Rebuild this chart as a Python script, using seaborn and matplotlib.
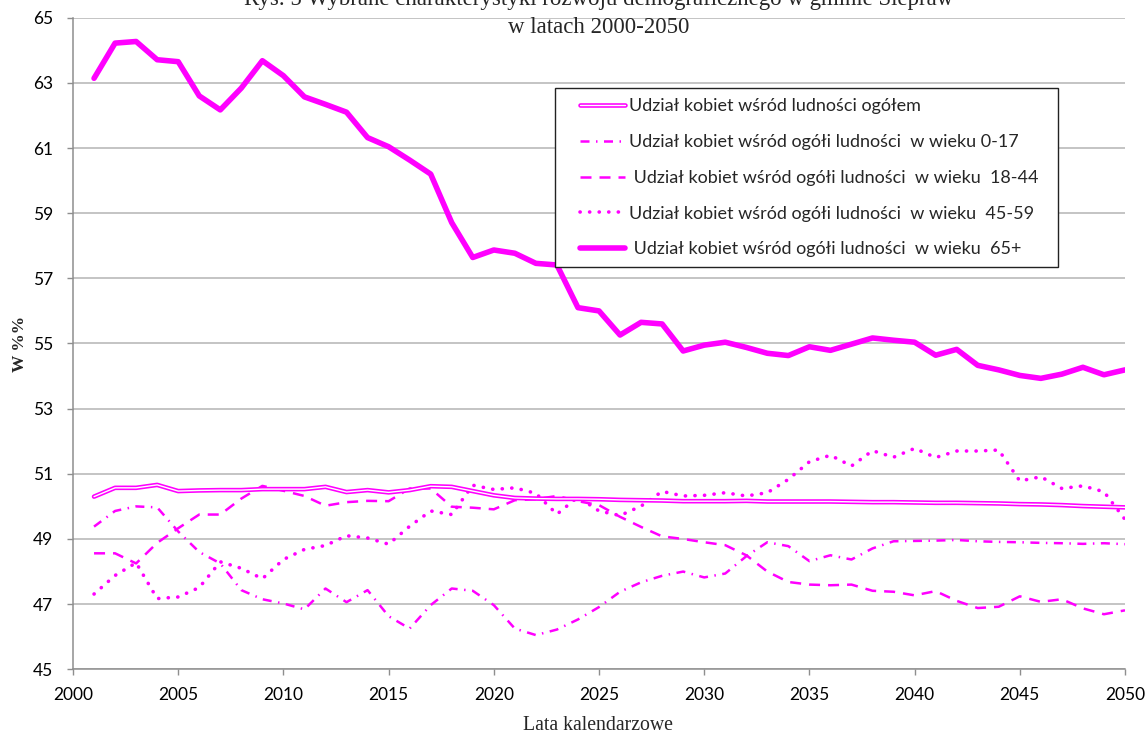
import numpy as np
import pandas as pd
import matplotlib
matplotlib.use("Agg")
import matplotlib.pyplot as plt
import matplotlib.patheffects as pe
from matplotlib.patches import Rectangle
import seaborn as sns

# Years of the projection
years = list(range(2001, 2051))

# Share of women (%) in the whole population
share_total = [50.30, 50.57, 50.57, 50.66, 50.47, 50.49, 50.50, 50.50, 50.53, 50.53,
               50.53, 50.60, 50.44, 50.50, 50.43, 50.50, 50.62, 50.60, 50.47, 50.34,
               50.26, 50.24, 50.23, 50.23, 50.22, 50.20, 50.19, 50.18, 50.16, 50.16,
               50.16, 50.17, 50.15, 50.15, 50.15, 50.15, 50.14, 50.13, 50.13, 50.12,
               50.11, 50.11, 50.10, 50.09, 50.07, 50.06, 50.04, 50.01, 49.99, 49.97]

# Share of women (%) aged 0-17
share_0_17 = [49.38, 49.86, 50.00, 49.97, 49.23, 48.60, 48.25, 47.43, 47.15, 47.02,
              46.84, 47.48, 47.06, 47.43, 46.63, 46.25, 46.97, 47.48, 47.41, 46.97,
              46.25, 46.05, 46.22, 46.53, 46.91, 47.38, 47.67, 47.87, 48.00, 47.82,
              47.94, 48.47, 48.90, 48.78, 48.32, 48.50, 48.37, 48.71, 48.93, 48.94,
              48.95, 48.97, 48.93, 48.91, 48.90, 48.88, 48.87, 48.85, 48.87, 48.84]

# Share of women (%) aged 18-44
share_18_44 = [48.56, 48.56, 48.25, 48.88, 49.33, 49.75, 49.75, 50.24, 50.63, 50.48,
               50.32, 50.02, 50.13, 50.17, 50.16, 50.55, 50.55, 49.99, 49.96, 49.91,
               50.19, 50.22, 50.32, 50.16, 50.04, 49.68, 49.37, 49.08, 49.00, 48.90,
               48.81, 48.50, 48.00, 47.68, 47.60, 47.58, 47.60, 47.41, 47.38, 47.27,
               47.40, 47.10, 46.88, 46.92, 47.24, 47.07, 47.15, 46.87, 46.69, 46.81]

# Share of women (%) aged 45-59
share_45_59 = [47.31, 47.88, 48.27, 47.17, 47.22, 47.51, 48.30, 48.10, 47.78, 48.37,
               48.68, 48.80, 49.10, 49.03, 48.84, 49.39, 49.86, 49.75, 50.65, 50.52,
               50.57, 50.40, 49.76, 50.29, 49.86, 49.72, 50.01, 50.46, 50.32, 50.34,
               50.42, 50.32, 50.42, 50.83, 51.37, 51.57, 51.24, 51.71, 51.51, 51.78,
               51.50, 51.70, 51.70, 51.73, 50.78, 50.91, 50.55, 50.63, 50.45, 49.60]

# Share of women (%) aged 65+
share_65 = [63.14, 64.22, 64.27, 63.71, 63.65, 62.60, 62.17, 62.84, 63.68, 63.22,
            62.57, 62.34, 62.10, 61.32, 61.04, 60.63, 60.20, 58.71, 57.64, 57.87,
            57.77, 57.46, 57.41, 56.10, 56.00, 55.26, 55.65, 55.60, 54.77, 54.95,
            55.04, 54.88, 54.70, 54.63, 54.90, 54.79, 54.98, 55.17, 55.10, 55.04,
            54.64, 54.82, 54.33, 54.19, 54.02, 53.93, 54.06, 54.27, 54.04, 54.19]

legend_labels = [
    "Udział kobiet wśród ludności ogółem",
    "Udział kobiet wśród ogółi ludności  w wieku 0-17",
    " Udział kobiet wśród ogółi ludności  w wieku  18-44",
    "Udział kobiet wśród ogółi ludności  w wieku  45-59",
    " Udział kobiet wśród ogółi ludności  w wieku  65+",
]

title_line1 = "Rys. 5 Wybrane charakterystyki rozwoju demograficznego w gminie Siepraw"
title_line2 = "w latach 2000-2050"
x_label = "Lata kalendarzowe"
y_label = "W %%"
x_ticks = list(range(2000, 2051, 5))
y_ticks = list(range(45, 66, 2))

MAGENTA = "#FF00FF"
GRID = "#b4b4b4"
AXIS = "#8e8e8e"
W, H = 1145, 733

sns.set_theme(style="white")
plt.rcParams["font.family"] = ["Lato", "DejaVu Sans"]
SERIF = ["Liberation Serif", "DejaVu Serif"]

fig = plt.figure(figsize=(W / 100, H / 100), dpi=100)
ax = fig.add_axes([73 / W, 1 - 669.3 / H, (1125 - 73) / W, (669.3 - 17.7) / H])

df = pd.DataFrame({
    "year": years,
    "total": share_total,
    "a0_17": share_0_17,
    "a18_44": share_18_44,
    "a45_59": share_45_59,
    "a65": share_65,
})

# total population: white core with magenta outline -> double line
sns.lineplot(data=df, x="year", y="total", ax=ax, color="white", linewidth=1.0,
             path_effects=[pe.Stroke(linewidth=3.3, foreground=MAGENTA), pe.Normal()],
             zorder=5)
# 0-17: long dash + dot
sns.lineplot(data=df, x="year", y="a0_17", ax=ax, color=MAGENTA, linewidth=1.8,
             linestyle=(0, (3.6, 2.6, 0.6, 2.6)), zorder=4)
# 18-44: dashes
sns.lineplot(data=df, x="year", y="a18_44", ax=ax, color=MAGENTA, linewidth=1.8,
             linestyle=(0, (4.4, 3.2)), zorder=4)
# 45-59: round dots
sns.lineplot(data=df, x="year", y="a45_59", ax=ax, color=MAGENTA, linewidth=2.6,
             linestyle=(0, (0.05, 2.6)), dash_capstyle="round", zorder=4)
# 65+: thick solid
sns.lineplot(data=df, x="year", y="a65", ax=ax, color=MAGENTA, linewidth=4.0,
             zorder=4)

ax.set_xlim(2000, 2050)
ax.set_ylim(45, 65)
ax.set_xticks(x_ticks)
ax.set_yticks(y_ticks)
ax.tick_params(axis="both", which="major", labelsize=12.5, labelcolor="black",
               color=AXIS, length=4.5, width=1, direction="out")
ax.tick_params(axis="y", pad=10)
ax.tick_params(axis="x", pad=8)
ax.xaxis.set_ticks_position("bottom")
ax.yaxis.set_ticks_position("left")

ax.grid(axis="y", color=GRID, linewidth=1.1)
ax.grid(axis="x", visible=False)
ax.set_axisbelow(True)
for side in ["top", "right"]:
    ax.spines[side].set_visible(False)
for side in ["left", "bottom"]:
    ax.spines[side].set_color(AXIS)
    ax.spines[side].set_linewidth(1.1)

ax.set_xlabel("")
ax.set_ylabel("")
fig.text(598 / W, 1 - 730 / H, x_label, ha="center", va="baseline",
         family=SERIF, fontsize=14.2)
fig.text(20 / W, 1 - 344 / H, y_label, ha="center", va="center", rotation=90,
         family=SERIF, fontsize=12.5, fontweight="bold")

# legend: frame drawn as a separate box, entries placed inside it
box = Rectangle((555 / W, 1 - 267 / H), (1058 - 555) / W, (267 - 88) / H,
                transform=fig.transFigure, facecolor="white", edgecolor="#222222",
                linewidth=1.0, zorder=9)
ax.add_patch(box)
box.set_clip_on(False)

handles = list(ax.lines[:5])
leg = ax.legend(handles, legend_labels, loc="upper left",
                bbox_to_anchor=(580 / W, 1 - 98.5 / H), bbox_transform=fig.transFigure,
                fontsize=13, frameon=False, handlelength=2.5, handletextpad=0.22,
                labelspacing=1.09, borderpad=0, borderaxespad=0)
leg.set_zorder(10)

fig.text(599 / W, 1 - 5.5 / H, title_line1, ha="center", va="baseline",
         family=SERIF, fontsize=16.5)
fig.text(599 / W, 1 - 33 / H, title_line2, ha="center", va="baseline",
         family=SERIF, fontsize=16.5)

fig.savefig("out.png", dpi=100)
